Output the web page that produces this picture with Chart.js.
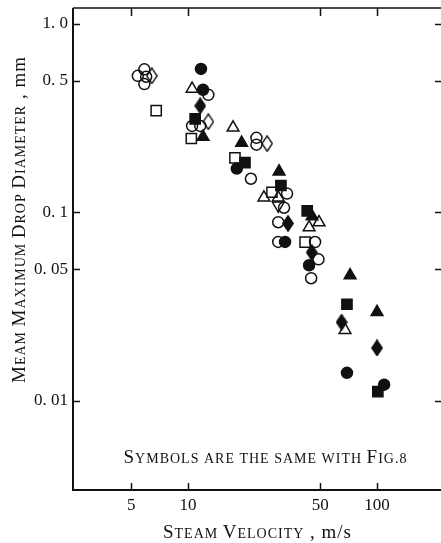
<!DOCTYPE html>
<html>
<head>
<meta charset="utf-8">
<script src="https://cdn.jsdelivr.net/npm/chart.js@4.4.0/dist/chart.umd.min.js"></script>
<style>
    html, body { margin: 0; padding: 0; background: #fff; }
    canvas { display: block; }
</style>
</head>
<body>
<canvas id="dropChart" width="441" height="543"></canvas>
<script>
// Axis limits and ticks (log-log)
const xRange = [2.46, 218];
const yRange = [0.00337, 1.216];
const xTicks = [5, 10, 50, 100];
const xTickLabels = ['5', '10', '50', '100'];
const yTicks = [1.0, 0.5, 0.1, 0.05, 0.01];
const yTickLabels = ['1. 0', '0. 5', '0. 1', '0. 05', '0. 01'];

// Data: [steam velocity m/s, mean max drop diameter mm], one array per symbol
const filledCircle = [[11.7, 0.578], [12.0, 0.448], [18.1, 0.171], [32.6, 0.0698], [43.7, 0.0525], [69.3, 0.0141], [109, 0.0122]];
const filledSquare = [[10.9, 0.314], [20.0, 0.184], [31.0, 0.139], [42.7, 0.102], [69.3, 0.0326], [101, 0.0112]];
const filledTriangle = [[12.0, 0.252], [19.2, 0.234], [30.3, 0.165], [45.3, 0.0953], [72.0, 0.0464], [100, 0.0296]];
const filledDiamond = [[11.6, 0.368], [33.8, 0.0875], [45.1, 0.0614], [64.9, 0.0262], [100, 0.0191]];
const openCircle = [[5.87, 0.575], [5.42, 0.531], [6.0, 0.525], [5.87, 0.480], [12.8, 0.421], [10.5, 0.288], [11.6, 0.288],
    [23.0, 0.249], [23.0, 0.229], [21.5, 0.151], [33.4, 0.126], [32.2, 0.106], [30.0, 0.0888], [30.0, 0.0698],
    [47.0, 0.0697], [49.0, 0.0564], [44.8, 0.0448]];
const openSquare = [[6.78, 0.347], [10.4, 0.247], [17.7, 0.195], [27.8, 0.128], [41.6, 0.0697]];
const openTriangle = [[10.5, 0.453], [17.3, 0.282], [25.2, 0.120], [30.0, 0.120], [49.3, 0.0886], [43.7, 0.0833], [67.7, 0.0238]];
const openDiamond = [[6.43, 0.531], [12.8, 0.303], [26.2, 0.232]];
const openInvTriangle = [[30.0, 0.109]];

// Texts
const xTitle = 'Steam Velocity';
const xUnit = 'm/s';
const yTitle = 'Meam Maximum Drop Diameter';
const yUnit = 'mm';
const note = 'Symbols are the same with Fig.8';

const SERIF = "'Liberation Serif', 'Times New Roman', serif";
const INK = '#111';
const CAP = 19, SMALL = 14;

function diamondImage(filled) {
    const c = document.createElement('canvas');
    c.width = 12; c.height = 17;
    const g = c.getContext('2d');
    g.beginPath();
    g.moveTo(6, 0.8); g.lineTo(11.2, 8.5); g.lineTo(6, 16.2); g.lineTo(0.8, 8.5);
    g.closePath();
    g.lineWidth = 1.4;
    g.strokeStyle = INK;
    if (filled) { g.fillStyle = INK; g.fill(); }
    g.stroke();
    return c;
}

function toPoints(arr) {
    return arr.map(p => ({ x: p[0], y: p[1] }));
}

function symbolSet(label, arr, style, filled, radius, rotation) {
    return {
        label: label,
        data: toPoints(arr),
        pointStyle: style,
        pointRadius: radius,
        pointRotation: rotation || 0,
        pointBackgroundColor: filled ? INK : 'rgba(0,0,0,0)',
        pointBorderColor: INK,
        pointBorderWidth: 1.5,
        showLine: false
    };
}

// first dataset is drawn on top, so filled symbols come first
const datasets = [
    symbolSet('filled circle', filledCircle, 'circle', true, 5.5),
    symbolSet('filled square', filledSquare, 'rect', true, 7.2),
    symbolSet('filled triangle', filledTriangle, 'triangle', true, 6.8),
    symbolSet('filled diamond', filledDiamond, diamondImage(true), true, 6),
    symbolSet('open circle', openCircle, 'circle', false, 5.5),
    symbolSet('open square', openSquare, 'rect', false, 7.2),
    symbolSet('open triangle', openTriangle, 'triangle', false, 6.8),
    symbolSet('open diamond', openDiamond, diamondImage(false), false, 6),
    symbolSet('open inverted triangle', openInvTriangle, 'triangle', false, 6.8, 180)
];

// small caps: uppercase letters full size, everything else small; unit kept literal
function buildRuns(text, unit) {
    const runs = [];
    for (const ch of text) {
        runs.push({ ch: ch.toUpperCase(), size: /[A-Z]/.test(ch) ? CAP : SMALL });
    }
    if (unit) {
        for (const ch of ' , ' + unit) runs.push({ ch: ch, size: CAP });
    }
    return runs;
}

function drawRuns(ctx, runs, spacing) {
    let total = 0;
    runs.forEach(r => {
        ctx.font = r.size + 'px ' + SERIF;
        r.w = ctx.measureText(r.ch).width;
        total += r.w + spacing;
    });
    total -= spacing;
    let x = -total / 2;
    runs.forEach(r => {
        ctx.font = r.size + 'px ' + SERIF;
        ctx.fillText(r.ch, x, 0);
        x += r.w + spacing;
    });
}

const framePlugin = {
    id: 'frame',
    afterDraw(chart) {
        const { ctx, chartArea: a } = chart;
        const xs = chart.scales.x, ys = chart.scales.y;
        ctx.save();
        ctx.strokeStyle = INK;
        ctx.lineWidth = 2;
        ctx.beginPath();
        ctx.moveTo(a.left, a.top);
        ctx.lineTo(a.left, a.bottom);
        ctx.lineTo(a.right, a.bottom);
        ctx.stroke();
        ctx.lineWidth = 1.5;
        ctx.beginPath();
        ctx.moveTo(a.left, a.top);
        ctx.lineTo(a.right, a.top);
        ctx.stroke();

        // inward ticks on all four sides
        ctx.beginPath();
        xTicks.forEach(v => {
            const px = Math.round(xs.getPixelForValue(v)) + 0.5;
            ctx.moveTo(px, a.top); ctx.lineTo(px, a.top + 8);
            ctx.moveTo(px, a.bottom); ctx.lineTo(px, a.bottom - 7);
        });
        yTicks.forEach(v => {
            const py = Math.round(ys.getPixelForValue(v)) + 0.5;
            ctx.moveTo(a.left, py); ctx.lineTo(a.left + 7, py);
            ctx.moveTo(a.right, py); ctx.lineTo(a.right - 6, py);
        });
        ctx.stroke();

        ctx.fillStyle = INK;
        ctx.textAlign = 'left';
        ctx.textBaseline = 'alphabetic';

        // x axis title
        ctx.save();
        ctx.translate((a.left + a.right) / 2, 538);
        drawRuns(ctx, buildRuns(xTitle, xUnit), 1);
        ctx.restore();

        // y axis title
        ctx.save();
        ctx.translate(25, 220);
        ctx.rotate(-Math.PI / 2);
        drawRuns(ctx, buildRuns(yTitle, yUnit), 1);
        ctx.restore();

        // note inside the plot
        ctx.save();
        ctx.translate(265, 463);
        drawRuns(ctx, buildRuns(note), 1);
        ctx.restore();

        ctx.restore();
    }
};

const tickFont = { family: SERIF, size: 17 };

new Chart(document.getElementById('dropChart'), {
    type: 'scatter',
    data: { datasets: datasets },
    options: {
        responsive: false,
        animation: false,
        events: [],
        layout: { autoPadding: false, padding: { top: 8, right: 0, bottom: 0, left: 0 } },
        plugins: { legend: { display: false }, tooltip: { enabled: false } },
        scales: {
            x: {
                type: 'logarithmic',
                min: xRange[0],
                max: xRange[1],
                afterBuildTicks: s => { s.ticks = xTicks.map(v => ({ value: v })); },
                afterFit: s => { s.height = 53; s.paddingLeft = 0; s.paddingRight = 0; },
                grid: { display: false, drawTicks: false },
                border: { display: false },
                ticks: {
                    autoSkip: false,
                    maxRotation: 0,
                    padding: 5,
                    color: INK,
                    font: tickFont,
                    callback: (v, i) => xTickLabels[i]
                }
            },
            y: {
                type: 'logarithmic',
                min: yRange[0],
                max: yRange[1],
                afterBuildTicks: s => { s.ticks = yTicks.map(v => ({ value: v })); },
                afterFit: s => { s.width = 73; s.paddingTop = 0; s.paddingBottom = 0; },
                grid: { display: false, drawTicks: false },
                border: { display: false },
                ticks: {
                    autoSkip: false,
                    padding: 5,
                    color: INK,
                    font: tickFont,
                    callback: (v, i) => yTickLabels[i]
                }
            }
        }
    },
    plugins: [framePlugin]
});
</script>
</body>
</html>
